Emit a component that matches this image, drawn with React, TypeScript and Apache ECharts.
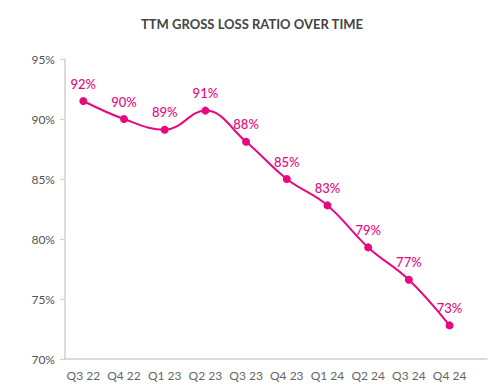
import React, { useEffect, useRef } from "react";
import * as echarts from "echarts";

const categories = ["Q3 22", "Q4 22", "Q1 23", "Q2 23", "Q3 23", "Q4 23", "Q1 24", "Q2 24", "Q3 24", "Q4 24"];
const lossRatio = [91.5, 90.0, 89.1, 90.7, 88.1, 85.0, 82.8, 79.3, 76.6, 72.8];
const yTicks = [70, 75, 80, 85, 90, 95];

const PINK = "#E6097F";

export default function App() {
  const ref = useRef<HTMLDivElement>(null);
  useEffect(() => {
    if (!ref.current) return;
    const chart = echarts.init(ref.current, null, { renderer: "svg" });
    const idx = categories.map((_, i) => i);
    chart.setOption({
      animation: false,
      backgroundColor: "#ffffff",
      textStyle: { fontFamily: "Lato" },
      title: {
        text: "TTM GROSS LOSS RATIO OVER TIME",
        left: "center",
        top: 12,
        textStyle: { fontFamily: "Lato", fontSize: 13, fontWeight: "bold", color: "#444444" },
      },
      grid: { left: 65, right: 17, top: 59, bottom: 29, containLabel: false },
      xAxis: {
        type: "value",
        min: -0.45,
        max: 9.92,
        splitLine: { show: false },
        axisTick: { show: false },
        axisLine: { show: true, onZero: false, lineStyle: { color: "#d0d0d0", width: 1.5 } },
        axisLabel: {
          customValues: idx,
          formatter: (v: number) => categories[Math.round(v)] ?? "",
          color: "#666666",
          fontSize: 12,
          fontFamily: "Lato",
          margin: 10,
        },
      },
      yAxis: {
        type: "value",
        min: yTicks[0],
        max: yTicks[yTicks.length - 1],
        interval: 5,
        splitLine: { show: false },
        axisLine: { show: true, onZero: false, lineStyle: { color: "#d0d0d0", width: 1.5 } },
        axisTick: { show: true, length: 5, lineStyle: { color: "#d0d0d0" } },
        axisLabel: {
          formatter: "{value}%",
          color: "#555555",
          fontSize: 12,
          fontFamily: "Lato",
          margin: 10,
        },
      },
      series: [
        {
          type: "line",
          smooth: 0.4,
          data: lossRatio.map((v, i) => [i, v]),
          symbol: "circle",
          symbolSize: 8,
          lineStyle: { color: PINK, width: 2 },
          itemStyle: { color: PINK },
          label: {
            show: true,
            position: "top",
            distance: 7,
            color: PINK,
            fontSize: 13,
            fontWeight: 500,
            fontFamily: "Lato",
            formatter: (p: any) => Math.round(p.value[1]) + "%",
          },
        },
      ],
    });
    return () => chart.dispose();
  }, []);
  return <div ref={ref} style={{ width: 504, height: 388, position: "absolute", left: 0, top: 0 }} />;
}
